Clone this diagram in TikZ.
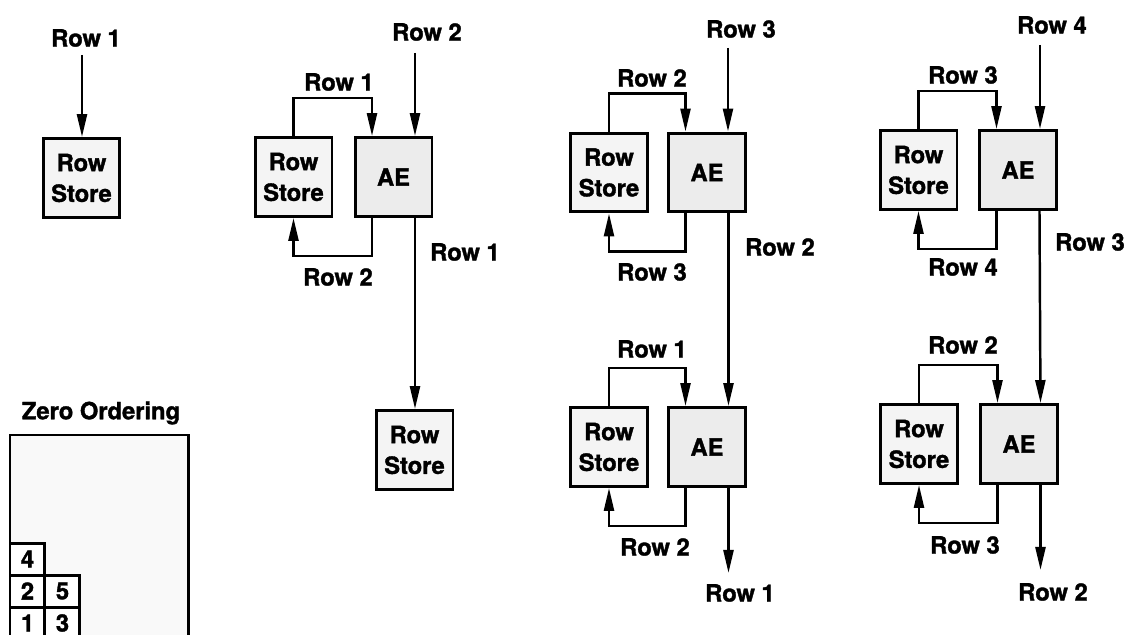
\documentclass[tikz,border=0pt]{standalone}
\usepackage{fontspec}
\setmainfont{TeX Gyre Heros}[BoldFeatures={FakeBold=1.5}]
\usetikzlibrary{arrows.meta,positioning}
\tikzset{
  blk/.style={draw, line width=1.7pt, minimum width=1.54cm, minimum height=1.58cm,
    align=center, inner sep=0pt, font=\bfseries\fontsize{13.5}{17.5}\selectfont},
  store/.style={blk, fill=gray!9},
  engine/.style={blk, fill=gray!15},
  lbl/.style={font=\bfseries\fontsize{13.5}{15}\selectfont, inner sep=1pt},
  arr/.style={line width=1.4pt, -{Triangle[length=4.6mm,width=2mm]}},
  cell/.style={draw, fill=white, line width=1.7pt, minimum width=0.7cm, minimum height=0.64cm,
    outer sep=0pt, inner sep=0pt, font=\bfseries\fontsize{13.5}{15}\selectfont},
}
\begin{document}
\begin{tikzpicture}[x=0.02cm,y=-0.02cm]
\path[use as bounding box, clip] (0,0) rectangle (1127,635);
% coordinates
\coordinate (in1) at (  82, 55);%
\coordinate (in2) at ( 415, 53);%
\coordinate (in3) at ( 728, 48);%
\coordinate (in4) at (1040, 45);%
% blocks
\node[store]  (rs1)  at ( 81.5,178)   {Row\\Store};
\node[store]  (rs2)  at (293.5,177)   {Row\\Store};
\node[engine] (ae2)  at (393.5,177)   {AE};
\node[store]  (rs2b) at (414.5,450)   {Row\\Store};
\node[store]  (rs3)  at ( 609,172.5)  {Row\\Store};
\node[engine] (ae3)  at ( 707,172.5)  {AE};
\node[store]  (rs3b) at ( 609,447)    {Row\\Store};
\node[engine] (ae3b) at ( 707,447)    {AE};
\node[store]  (rs4)  at ( 918.5,170)  {Row\\Store};
\node[engine] (ae4)  at (1018,170)    {AE};
\node[store]  (rs4b) at ( 919,444)    {Row\\Store};
\node[engine] (ae4b) at (1019,444)    {AE};
% labels
\node[lbl] (l1)   at (  86, 38) {Row 1};
\node[lbl] (l2)   at ( 427, 32) {Row 2};
\node[lbl] (l2a)  at ( 339, 82) {Row 1};
\node[lbl] (l2b)  at ( 338,277) {Row 2};
\node[lbl] (l2c)  at ( 465,252) {Row 1};
\node[lbl] (l3)   at ( 741, 29) {Row 3};
\node[lbl] (l3a)  at ( 652, 78) {Row 2};
\node[lbl] (l3b)  at ( 652,272) {Row 3};
\node[lbl] (l3c)  at ( 780,247) {Row 2};
\node[lbl] (l3d)  at ( 652,349) {Row 1};
\node[lbl] (l3e)  at ( 655,547) {Row 2};
\node[lbl] (l3f)  at ( 740,593) {Row 1};
\node[lbl] (l4)   at (1052, 25) {Row 4};
\node[lbl] (l4a)  at ( 963, 75) {Row 3};
\node[lbl] (l4b)  at ( 963,267) {Row 4};
\node[lbl] (l4c)  at (1090,242) {Row 3};
\node[lbl] (l4d)  at ( 963,345) {Row 2};
\node[lbl] (l4e)  at ( 965,545) {Row 3};
\node[lbl] (l4f)  at (1053,592) {Row 2};
% inputs
\draw[arr] (in1) -- (in1 |- rs1.north);
\draw[arr] (in2) -- (in2 |- ae2.north);
\draw[arr] (in3) -- (in3 |- ae3.north);
\draw[arr] (in4) -- (in4 |- ae4.north);
% loops
\foreach \s/\e in {rs2/ae2, rs3/ae3, rs3b/ae3b, rs4/ae4, rs4b/ae4b}{
  \draw[arr] (\s.north) -- ++(0,-38) -| ([xshift=-0.43cm]\e.north);
  \draw[arr] ([xshift=-0.43cm]\e.south) -- ++(0,38) -| (\s.south);
}
% outputs
\draw[arr] ([xshift=0.43cm]ae2.south) -- ([xshift=0.43cm]ae2.south |- rs2b.north);
\draw[arr] ([xshift=0.43cm]ae3.south) -- ([xshift=0.43cm]ae3b.north);
\draw[arr] ([xshift=0.43cm]ae4.south) -- ([xshift=0.43cm]ae4b.north);
\draw[arr] ([xshift=0.43cm]ae3b.south) -- ++(0,85);
\draw[arr] ([xshift=0.43cm]ae4b.south) -- ++(0,85);
% zero ordering
\node[lbl] (zt) at (101,413) {Zero Ordering};
\node[draw, line width=1.7pt, fill=gray!5, outer sep=0pt, anchor=north west,
  minimum width=3.58cm, minimum height=4.08cm] (zbox) at (10,435) {};
\node[cell, anchor=south west] (c1) at (10,639) {1};
\node[cell, right=0pt of c1] (c3) {3};
\node[cell, above=0pt of c1] (c2) {2};
\node[cell, right=0pt of c2] (c5) {5};
\node[cell, above=0pt of c2] (c4) {4};
\end{tikzpicture}
\end{document}
